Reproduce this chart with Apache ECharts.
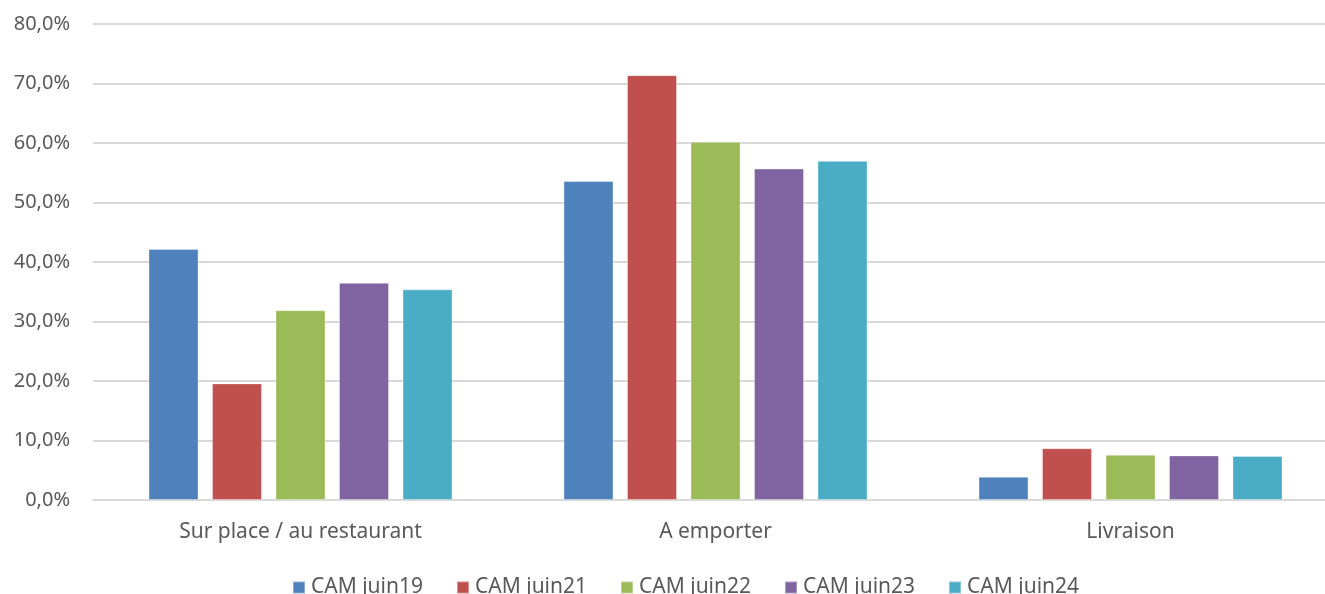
<!DOCTYPE html>
<html>
<head>
<meta charset="utf-8">
<script src="https://cdn.jsdelivr.net/npm/echarts@6/dist/echarts.min.js"></script>
<style>
html,body{margin:0;padding:0;background:#fff;}
#c{width:1325px;height:594px;}
</style>
</head>
<body>
<div id="c"></div>
<script>
const categories = ['Sur place / au restaurant', 'A emporter', 'Livraison'];
const seriesNames = ['CAM juin19', 'CAM juin21', 'CAM juin22', 'CAM juin23', 'CAM juin24'];
const juin19 = [42.2, 53.6, 3.9];
const juin21 = [19.6, 71.4, 8.7];
const juin22 = [31.9, 60.2, 7.6];
const juin23 = [36.5, 55.7, 7.5];
const juin24 = [35.4, 57.0, 7.4];
const colors = ['#4F81BD', '#C0504D', '#9BBB59', '#8064A2', '#4BACC6'];

const values = [juin19, juin21, juin22, juin23, juin24];
const font = '"Noto Sans", Lato, sans-serif';
const chart = echarts.init(document.getElementById('c'), null, {renderer: 'canvas'});
chart.setOption({
  animation: false,
  backgroundColor: '#fff',
  textStyle: {fontFamily: font},
  grid: {left: 93, width: 1245, top: 24, bottom: 94, containLabel: false, outerBoundsMode: 'none'},
  legend: {
    data: seriesNames,
    left: 292, top: 577, padding: 0,
    itemWidth: 12, itemHeight: 12, itemGap: 33,
    icon: 'rect',
    textStyle: {color: '#595959', fontSize: 21, fontFamily: font, width: 113, padding: [0,0,0,1]}
  },
  xAxis: {
    type: 'category',
    data: categories,
    axisLine: {show: true, lineStyle: {color: '#D9D9D9', width: 2}},
    axisTick: {show: false},
    axisLabel: {color: '#595959', fontSize: 21, margin: 22, fontFamily: font}
  },
  yAxis: {
    type: 'value',
    min: 0, max: 80, interval: 10,
    axisLine: {show: false},
    axisTick: {show: false},
    splitLine: {lineStyle: {color: '#D9D9D9', width: 2}},
    axisLabel: {
      color: '#595959', fontSize: 20, margin: 23, fontFamily: font,
      formatter: v => v.toFixed(1).replace('.', ',') + '%'
    }
  },
  series: seriesNames.map((n, i) => ({
    name: n,
    type: 'bar',
    data: values[i],
    barWidth: 50,
    barGap: '27%',
    itemStyle: {color: colors[i], borderColor: 'rgba(255,255,255,0.35)', borderWidth: 1}
  }))
});
</script>
</body>
</html>
